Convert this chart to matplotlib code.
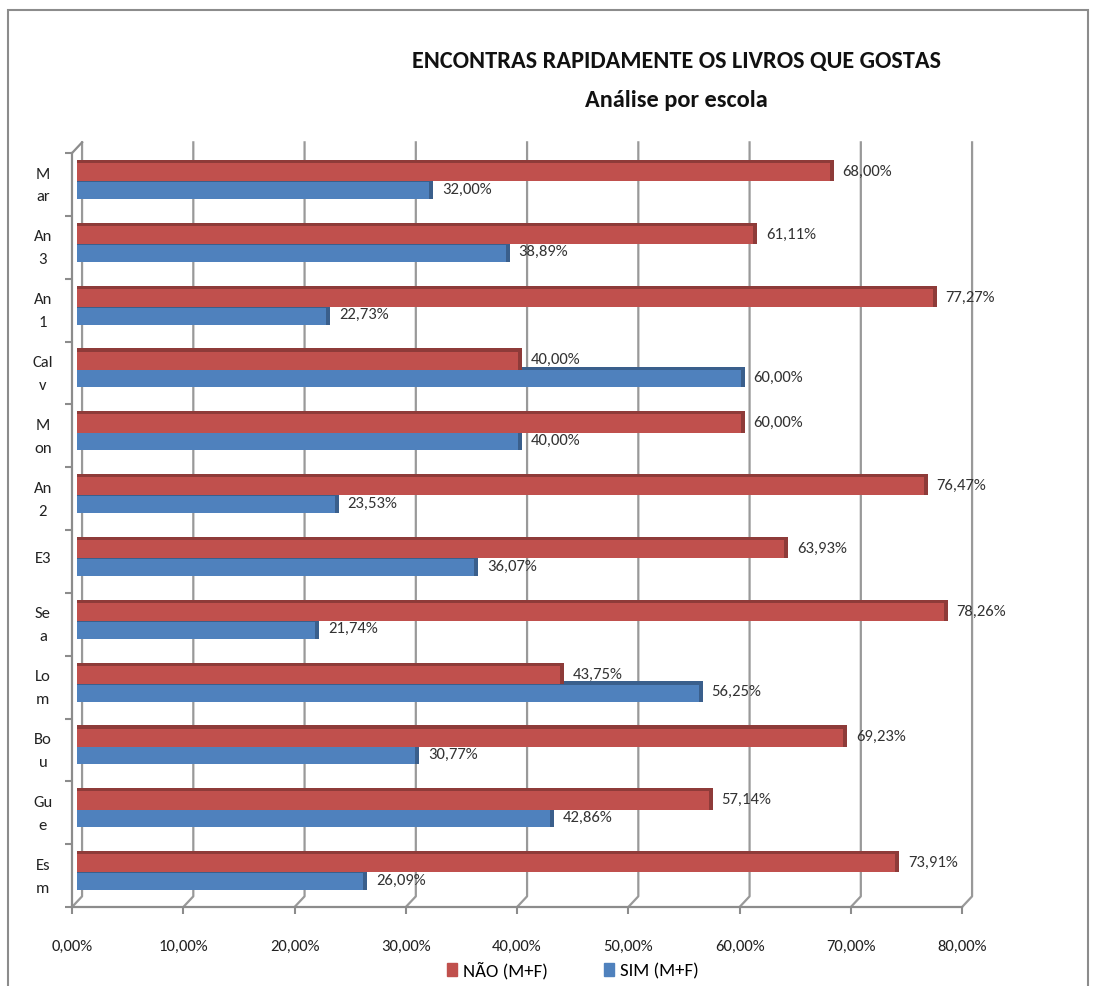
import matplotlib.pyplot as plt
from matplotlib.patches import Rectangle, Patch
import numpy as np

plt.rcParams['font.family'] = ['Carlito', 'Lato', 'DejaVu Sans']

# schools, top to bottom as shown
schools = ["M\nar", "An\n3", "An\n1", "Cal\nv", "M\non", "An\n2", "E3",
           "Se\na", "Lo\nm", "Bo\nu", "Gu\ne", "Es\nm"]
nao = [68.00, 61.11, 77.27, 40.00, 60.00, 76.47, 63.93, 78.26, 43.75, 69.23, 57.14, 73.91]
sim = [32.00, 38.89, 22.73, 60.00, 40.00, 23.53, 36.07, 21.74, 56.25, 30.77, 42.86, 26.09]
xticks = [0, 10, 20, 30, 40, 50, 60, 70, 80]

red, red_dark = '#C0504D', '#8E3B39'
blue, blue_dark = '#4F81BD', '#3A5F8C'
grey = '#8c8c8c'
depth_x, depth_y = 0.9, 0.17   # fake 3D depth offset (data units)
lift = 0.09                    # bars sit half-way into the depth

fig = plt.figure(figsize=(10.95, 9.86), dpi=100)
fig.patches.append(Rectangle((0.007, -0.05), 0.987, 1.04, transform=fig.transFigure,
                             fill=False, edgecolor=grey, linewidth=1.5))
ax = fig.add_axes([0.0658, 0.0801, 0.8128, 0.7647])

y = np.arange(len(schools))[::-1]
top = len(schools) - 0.5

# back-wall gridlines with the diagonal down to the floor ticks
for t in xticks:
    ax.plot([t, t + depth_x, t + depth_x], [-0.5, -0.5 + depth_y, top + depth_y],
            color='#999999', lw=1.6, zorder=0, clip_on=False)
ax.plot([0, depth_x], [top, top + depth_y], color=grey, lw=1.6, clip_on=False, zorder=1)

x0 = depth_x / 2
# SIM bars (below), front face + top face
for yi, v in zip(y, sim):
    b = yi + lift
    ax.barh(b - 0.32, v, left=x0, height=0.32, align='edge', color=blue, edgecolor='none', zorder=3)
    ax.barh(b - 0.05, v, left=x0, height=0.05, align='edge', color=blue_dark, edgecolor='none', zorder=3)
    ax.barh(b - 0.32, 0.35, left=x0 + v - 0.35, height=0.32, align='edge', color=blue_dark,
            edgecolor='none', zorder=3)
    ax.text(x0 + v + 0.8, b - 0.17, f"{v:.2f}%".replace('.', ','), va='center', ha='left',
            fontsize=12, color='#333333', zorder=6)
# NÃO bars (above), drawn over the SIM top face
for yi, v in zip(y, nao):
    b = yi + lift
    ax.barh(b - 0.04, v, left=x0, height=0.34, align='edge', color=red, edgecolor='none', zorder=4)
    ax.barh(b + 0.25, v, left=x0, height=0.05, align='edge', color=red_dark, edgecolor='none', zorder=4)
    ax.barh(b - 0.04, 0.35, left=x0 + v - 0.35, height=0.34, align='edge', color=red_dark,
            edgecolor='none', zorder=4)
    ax.text(x0 + v + 0.8, b + 0.11, f"{v:.2f}%".replace('.', ','), va='center', ha='left',
            fontsize=12, color='#333333', zorder=6)

ax.set_xlim(0, 80)
ax.set_ylim(-0.5, top)
ax.set_xticks(xticks)
ax.set_xticklabels([f"{t:.2f}%".replace('.', ',') for t in xticks], fontsize=12, color='#222222')
ax.set_yticks(y + 0.07)
ax.set_yticklabels(schools, fontsize=12, color='#222222', ha='center', multialignment='center',
                   linespacing=1.8)
ax.set_yticks(np.arange(len(schools) + 1) - 0.5, minor=True)
ax.tick_params(axis='y', which='major', length=0, pad=21)
ax.tick_params(axis='y', which='minor', length=5, color=grey, width=1.5)
ax.tick_params(axis='x', length=5, color=grey, width=1.5, pad=19)
for s in ['top', 'right']:
    ax.spines[s].set_visible(False)
for s in ['left', 'bottom']:
    ax.spines[s].set_color(grey)
    ax.spines[s].set_linewidth(1.6)

fig.text(0.618, 0.938, "ENCONTRAS RAPIDAMENTE OS LIVROS QUE GOSTAS", ha='center', va='center',
         fontsize=17.5, fontweight='bold', color='#111111')
fig.text(0.618, 0.898, "Análise por escola", ha='center', va='center',
         fontsize=17.5, fontweight='bold', color='#111111')

handles = [Patch(color=red), Patch(color=blue)]
fig.legend(handles, ["NÃO (M+F)", "SIM (M+F)"], loc='center', bbox_to_anchor=(0.523, 0.016),
           ncol=2, frameon=False, fontsize=13.5, handlelength=0.55, handleheight=0.65,
           handletextpad=0.3, columnspacing=3.0)

fig.savefig('out.png', dpi=100)
